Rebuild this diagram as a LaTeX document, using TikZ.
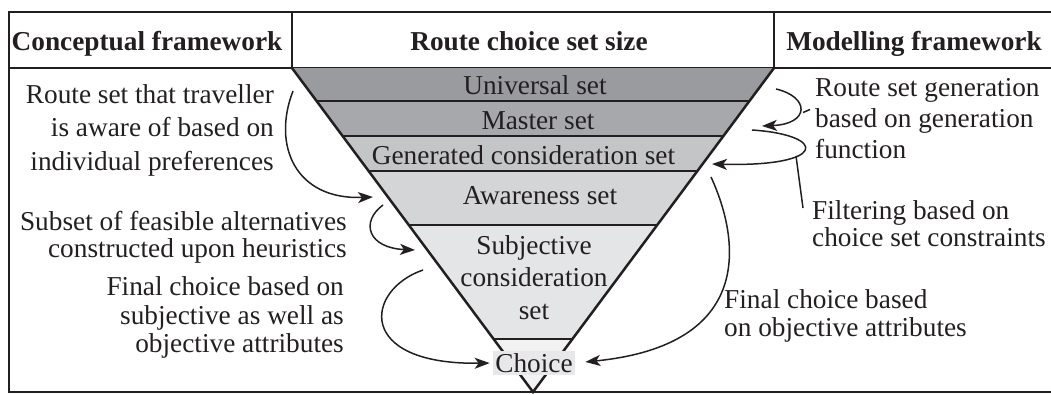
\documentclass[tikz,border=0pt]{standalone}
\usepackage{fontspec}
\setmainfont{Liberation Serif}
\usetikzlibrary{arrows.meta}
\usetikzlibrary{calc}
\usepackage{xcolor}
\definecolor{ink}{HTML}{231F20}
\definecolor{universal_gray}{HTML}{9A9B9E}
\definecolor{master_gray}{HTML}{A7A8AB}
\definecolor{generated_gray}{HTML}{C4C5C7}
\definecolor{awareness_gray}{HTML}{D4D5D7}
\definecolor{subjective_gray}{HTML}{E4E5E7}
\definecolor{choice_gray}{HTML}{F2F2F3}
\definecolor{choice_fill}{HTML}{E8E8EA}
\newcommand{\notefont}[1]{\fontsize{27.3}{#1}\selectfont}

\begin{document}
\begin{tikzpicture}[x=1pt, y=-1pt, >={Stealth[length=15pt, width=11pt, inset=4pt]},
    every node/.style={inner sep=0pt, text=ink, font=\notefont{32.5}},
    header/.style={anchor=base, font=\notefont{32.5}\bfseries},
    setlabel/.style={anchor=base},
    leftnote/.style={anchor=east, align=right},
    rightnote/.style={anchor=west, align=left},
    flow/.style={->, draw=ink, line width=1.5pt},
    leader/.style={-, draw=ink, line width=1.5pt}]
      \useasboundingbox (0,0) rectangle (1051,394);

      % frame and header
      \draw [-, ink, line width=2pt] (1051,12) -- (9,12) -- (9,392) -- (1051,392);
      \draw [-, ink, line width=2.5pt] (9,68) -- (1051,68);
      \draw [-, ink, line width=1.5pt] (292,12) -- (292,68);
      \draw [-, ink, line width=1.5pt] (774,12) -- (774,68);

      \node [header, name=concept_head] at (147,50) {Conceptual framework};
      \node [header, name=size_head] at (529,50) {Route choice set size};
      \node [header, name=model_head] at (914,50) {Modelling framework};

      % funnel
      \coordinate (top_left) at (292,68);
      \coordinate (top_right) at (774,68);
      \coordinate (apex) at (533,392);

      \coordinate (left_1) at ($(top_left)!0.103!(apex)$);
      \coordinate (right_1) at ($(top_right)!0.103!(apex)$);
      \coordinate (left_2) at ($(top_left)!0.211!(apex)$);
      \coordinate (right_2) at ($(top_right)!0.211!(apex)$);
      \coordinate (left_3) at ($(top_left)!0.319!(apex)$);
      \coordinate (right_3) at ($(top_right)!0.319!(apex)$);
      \coordinate (left_4) at ($(top_left)!0.484!(apex)$);
      \coordinate (right_4) at ($(top_right)!0.484!(apex)$);
      \coordinate (left_5) at ($(top_left)!0.836!(apex)$);
      \coordinate (right_5) at ($(top_right)!0.836!(apex)$);

      \fill [universal_gray] (top_left) -- (top_right) -- (right_1) -- (left_1) -- cycle;
      \fill [master_gray] (left_1) -- (right_1) -- (right_2) -- (left_2) -- cycle;
      \fill [generated_gray] (left_2) -- (right_2) -- (right_3) -- (left_3) -- cycle;
      \fill [awareness_gray] (left_3) -- (right_3) -- (right_4) -- (left_4) -- cycle;
      \fill [subjective_gray] (left_4) -- (right_4) -- (right_5) -- (left_5) -- cycle;
      \fill [choice_gray] (left_5) -- (right_5) -- (apex) -- cycle;

      \draw [-, ink, line width=2pt] (left_1) -- (right_1);
      \draw [-, ink, line width=2pt] (left_2) -- (right_2);
      \draw [-, ink, line width=2pt] (left_3) -- (right_3);
      \draw [-, ink, line width=2pt] (left_4) -- (right_4);
      \draw [-, ink, line width=2pt] (left_5) -- (right_5);
      \draw [-, ink, line width=2.5pt] (top_left) -- (apex) -- (top_right);

      \node [setlabel, name=universal] at (535,94.7) {Universal set};
      \node [setlabel, name=master] at (538,129.7) {Master set};
      \node [setlabel, name=generated] at (523.5,164.7) {Generated consideration set};
      \node [setlabel, name=awareness] at (540,204.7) {Awareness set};
      \node [align=center, name=subjective] at (534,277.5) {Subjective\\consideration\\set};
      \node [fill=choice_fill, inner sep=2pt, name=choice] at (534,363) {Choice};

      % notes
      \node [leftnote, font=\notefont{33.5}, name=aware_note] at (274,130.2)
      {Route set that traveller\\is aware of based on\\individual preferences};
      \node [leftnote, font=\notefont{27.6}, name=subset_note] at (347,237.2)
      {Subset of feasible alternatives\\constructed upon heuristics};
      \node [leftnote, font=\notefont{28.2}, name=subjective_note] at (344,317.5)
      {Final choice based on\\subjective as well as\\objective attributes};
      \node [rightnote, font=\notefont{31}, name=generation_note] at (815,118.2)
      {Route set generation\\based on generation\\function};
      \node [rightnote, font=\notefont{26.7}, name=filter_note] at (812,224)
      {Filtering based on\\choice set constraints};
      \node [rightnote, font=\notefont{28.5}, name=objective_note] at (724,316)
      {Final choice based\\on objective attributes};

      % arrows
      \coordinate (aware_start) at (293,91);
      \coordinate (aware_end) at (373,197);
      \coordinate (subset_start) at (383,205);
      \coordinate (subset_end) at (415,250);
      \coordinate (subjective_start) at (423,270);
      \coordinate (generation_start) at (776,89);
      \coordinate (generation_end) at (762,126);
      \coordinate (generation_tick) at (803,112.5);
      \coordinate (generation_hook) at (810,109.5);
      \coordinate (filter_start) at (752,130);
      \coordinate (filter_end) at (712,164);
      \coordinate (filter_tick) at (796,156);
      \coordinate (filter_hook) at (803,208);
      \coordinate (objective_start) at (711,177);

      \draw [flow] (aware_start) .. controls (272,145) and (295,200) .. (aware_end);
      \draw [flow] (subset_start) .. controls (360,222) and (368,248) .. (subset_end);
      \draw [flow, shorten >=3.5pt] (subjective_start) .. controls (365,290) and (355,365) .. (choice.west);
      \draw [flow] (generation_start) .. controls (810,97) and (810,124) .. (generation_end);
      \draw [leader] (generation_tick) -- (generation_hook);
      \draw [flow] (filter_start) .. controls (828,135) and (828,167) .. (filter_end);
      \draw [leader] (filter_tick) -- (filter_hook);
      \draw [flow, shorten >=10.5pt] (objective_start) .. controls (740,240) and (755,345) .. (choice.east);
    \end{tikzpicture}
\end{document}
